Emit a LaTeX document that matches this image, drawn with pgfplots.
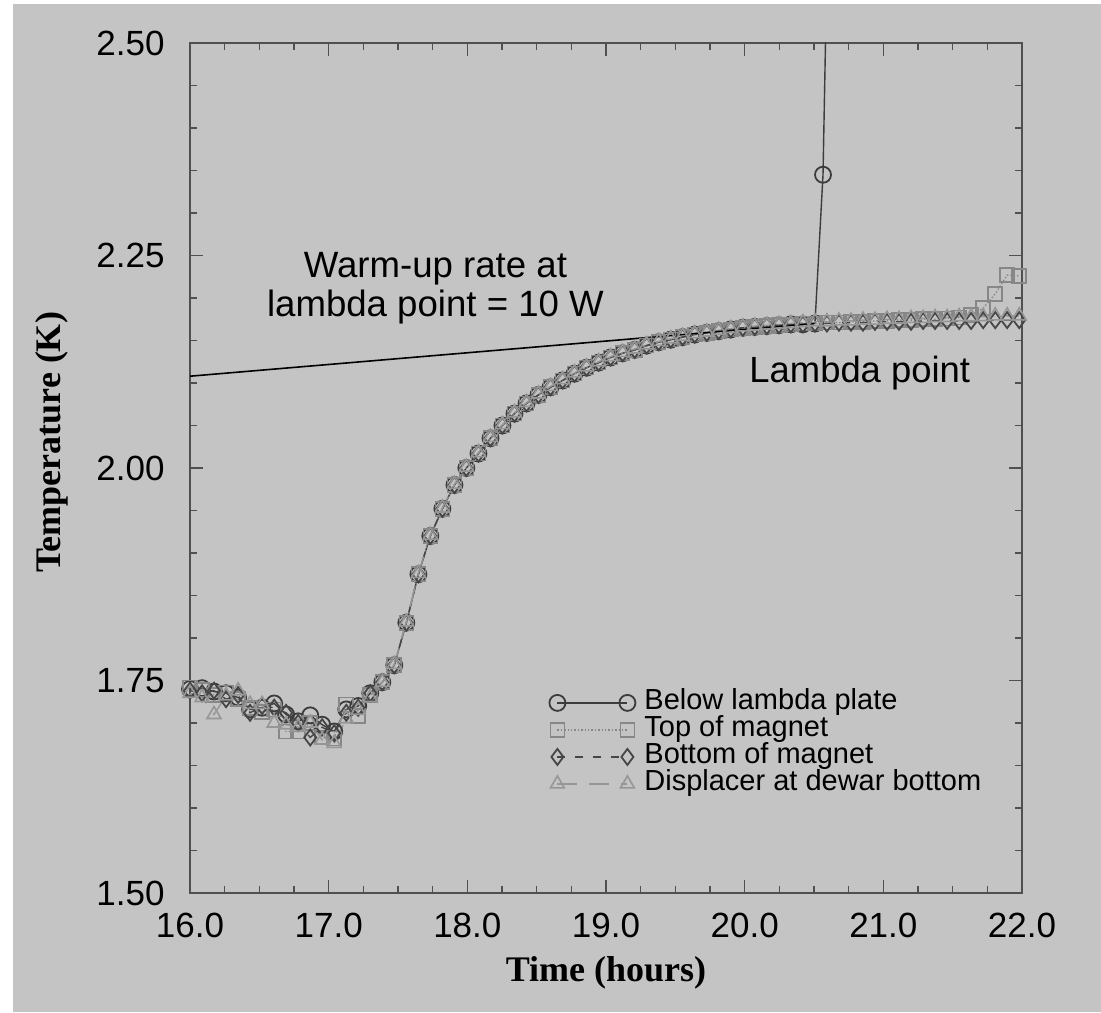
\documentclass[border=0pt]{standalone}
\usepackage{fontspec}
\setmainfont{Liberation Sans}
\newfontfamily\serifbf{Liberation Serif}
\usepackage{pgfplots}
\pgfplotsset{compat=1.18}
\definecolor{bg}{RGB}{196,196,196}
\definecolor{cir}{RGB}{60,60,60}
\definecolor{sqr}{RGB}{135,135,135}
\definecolor{dia}{RGB}{70,70,70}
\definecolor{tri}{RGB}{150,150,150}
\definecolor{axc}{RGB}{80,80,80}

\begin{document}
\begin{tikzpicture}
% background, 1 px = 0.5pt
\fill[white] (-95pt,-59.5pt) rectangle (455.5pt,446.5pt);
\fill[bg] (-88.5pt,-59.5pt) rectangle (455.5pt,444.5pt);
\begin{axis}[
  at={(0,0)}, anchor=south west,
  scale only axis, width=416pt, height=425pt,
  xmin=16, xmax=22, ymin=1.5, ymax=2.5,
  xtick={16,17,...,22}, ytick={1.5,1.75,2,2.25,2.5},
  minor x tick num=3, minor y tick num=4,
  major tick length=6.5pt, minor tick length=3.5pt,
  tick style={axc, line width=0.8pt},
  axis line style={axc, line width=1pt},
  /pgf/number format/assume math mode=true,
  xticklabel style={/pgf/number format/.cd, fixed, fixed zerofill, precision=1, /tikz/.cd,
    font=\fontsize{17.5}{20}\selectfont, inner sep=0pt, anchor=north, yshift=-10pt},
  yticklabel style={/pgf/number format/.cd, fixed, fixed zerofill, precision=2, /tikz/.cd,
    font=\fontsize{17.5}{20}\selectfont, inner sep=0pt, anchor=east, xshift=-12.5pt},
  xlabel={Time (hours)}, ylabel={Temperature (K)},
  xlabel style={font=\serifbf\bfseries\fontsize{18}{20}\selectfont, at={(axis description cs:0.5,-0.094)}, anchor=center},
  ylabel style={font=\serifbf\bfseries\fontsize{18}{20}\selectfont, at={(axis description cs:-0.166,0.53)}, anchor=center, rotate=0},
  legend style={at={(axis description cs:0.4315,0.240)}, anchor=north west, draw=none, fill=none,
    inner sep=0pt, row sep=0pt, font=\fontsize{14.5}{16}\selectfont,
    nodes={inner sep=0pt, text height=10pt, text depth=3.5pt},
    /tikz/every odd column/.append style={column sep=4.5pt}},
  legend cell align=left,
  legend image code/.code={\draw[#1] plot coordinates {(0pt,0pt) (35pt,0pt)};},
]
\addplot[cir, line width=0.7pt, mark=o, mark size=4pt, mark options={solid, line width=0.9pt}] coordinates {
(16.000,1.740)(16.087,1.741)(16.173,1.737)(16.260,1.735)(16.347,1.730)(16.433,1.716)(16.520,1.718)(16.607,1.723)
(16.693,1.710)(16.780,1.702)(16.867,1.709)(16.953,1.698)(17.040,1.690)(17.127,1.716)(17.213,1.720)(17.300,1.735)
(17.387,1.748)(17.473,1.768)(17.560,1.818)(17.647,1.875)(17.733,1.920)(17.820,1.952)(17.907,1.980)(17.993,2.000)
(18.080,2.017)(18.167,2.035)(18.253,2.050)(18.340,2.064)(18.427,2.076)(18.513,2.086)(18.600,2.095)(18.687,2.103)
(18.773,2.111)(18.860,2.118)(18.947,2.124)(19.033,2.130)(19.120,2.135)(19.207,2.139)(19.293,2.144)(19.380,2.148)
(19.467,2.151)(19.553,2.154)(19.640,2.157)(19.727,2.159)(19.813,2.161)(19.900,2.163)(19.987,2.165)(20.073,2.166)
(20.160,2.167)(20.247,2.168)(20.333,2.169)(20.420,2.169)(20.507,2.170)(20.565,2.345)(20.600,2.650)};
\addlegendentry{Below lambda plate}
\addplot[sqr, line width=0.7pt, densely dotted, mark=square, mark size=3.5pt, mark options={solid, line width=0.8pt}] coordinates {
(16.000,1.742)(16.087,1.739)(16.173,1.733)(16.260,1.736)(16.347,1.728)(16.433,1.718)(16.520,1.713)(16.607,1.716)
(16.693,1.690)(16.780,1.690)(16.867,1.700)(16.953,1.683)(17.040,1.682)(17.127,1.722)(17.213,1.708)(17.300,1.733)
(17.387,1.748)(17.473,1.768)(17.560,1.818)(17.647,1.875)(17.733,1.920)(17.820,1.952)(17.907,1.980)(17.993,2.000)
(18.080,2.017)(18.167,2.035)(18.253,2.050)(18.340,2.064)(18.427,2.076)(18.513,2.086)(18.600,2.095)(18.687,2.103)
(18.773,2.111)(18.860,2.118)(18.947,2.124)(19.033,2.130)(19.120,2.135)(19.207,2.139)(19.293,2.144)(19.380,2.148)
(19.467,2.151)(19.553,2.154)(19.640,2.157)(19.727,2.159)(19.813,2.161)(19.900,2.163)(19.987,2.165)(20.073,2.166)
(20.160,2.167)(20.247,2.168)(20.333,2.169)(20.420,2.170)(20.507,2.170)(20.593,2.171)(20.680,2.171)(20.767,2.172)
(20.853,2.172)(20.940,2.173)(21.027,2.173)(21.113,2.174)(21.200,2.174)(21.287,2.175)(21.373,2.175)(21.460,2.176)
(21.547,2.177)(21.633,2.180)(21.720,2.188)(21.807,2.205)(21.893,2.227)(21.980,2.226)};
\addlegendentry{Top of magnet}
\addplot[dia, line width=0.7pt, dash pattern=on 4pt off 5pt, mark=diamond, mark size=4pt, mark options={solid, line width=0.9pt}] coordinates {
(16.000,1.738)(16.087,1.735)(16.173,1.738)(16.260,1.728)(16.347,1.733)(16.433,1.712)(16.520,1.720)(16.607,1.718)
(16.693,1.712)(16.780,1.700)(16.867,1.683)(16.953,1.695)(17.040,1.688)(17.127,1.712)(17.213,1.718)(17.300,1.735)
(17.387,1.748)(17.473,1.768)(17.560,1.818)(17.647,1.875)(17.733,1.920)(17.820,1.952)(17.907,1.980)(17.993,2.000)
(18.080,2.017)(18.167,2.035)(18.253,2.050)(18.340,2.064)(18.427,2.076)(18.513,2.086)(18.600,2.095)(18.687,2.103)
(18.773,2.111)(18.860,2.118)(18.947,2.124)(19.033,2.130)(19.120,2.135)(19.207,2.139)(19.293,2.144)(19.380,2.148)
(19.467,2.151)(19.553,2.154)(19.640,2.157)(19.727,2.159)(19.813,2.161)(19.900,2.163)(19.987,2.165)(20.073,2.166)
(20.160,2.167)(20.247,2.168)(20.333,2.169)(20.420,2.169)(20.507,2.170)(20.593,2.170)(20.680,2.171)(20.767,2.171)
(20.853,2.171)(20.940,2.172)(21.027,2.172)(21.113,2.172)(21.200,2.172)(21.287,2.173)(21.373,2.173)(21.460,2.173)
(21.547,2.173)(21.633,2.173)(21.720,2.174)(21.807,2.174)(21.893,2.174)(21.980,2.174)};
\addlegendentry{Bottom of magnet}
\addplot[tri, line width=0.7pt, dash pattern=on 10pt off 6pt, mark=triangle, mark size=4pt, mark options={solid, line width=0.8pt}] coordinates {
(16.000,1.735)(16.087,1.730)(16.173,1.710)(16.260,1.732)(16.347,1.738)(16.433,1.722)(16.520,1.722)(16.607,1.700)
(16.693,1.698)(16.780,1.695)(16.867,1.700)(16.953,1.680)(17.040,1.676)(17.127,1.705)(17.213,1.715)(17.300,1.730)
(17.387,1.748)(17.473,1.769)(17.560,1.819)(17.647,1.876)(17.733,1.921)(17.820,1.953)(17.907,1.981)(17.993,2.001)
(18.080,2.018)(18.167,2.036)(18.253,2.051)(18.340,2.065)(18.427,2.077)(18.513,2.087)(18.600,2.096)(18.687,2.104)
(18.773,2.112)(18.860,2.119)(18.947,2.125)(19.033,2.131)(19.120,2.136)(19.207,2.140)(19.293,2.145)(19.380,2.149)
(19.467,2.152)(19.553,2.155)(19.640,2.158)(19.727,2.160)(19.813,2.162)(19.900,2.164)(19.987,2.166)(20.073,2.167)
(20.160,2.168)(20.247,2.169)(20.333,2.170)(20.420,2.171)(20.507,2.172)(20.593,2.172)(20.680,2.173)(20.767,2.173)
(20.853,2.174)(20.940,2.174)(21.027,2.175)(21.113,2.175)(21.200,2.176)(21.287,2.176)(21.373,2.177)(21.460,2.177)
(21.547,2.178)(21.633,2.178)(21.720,2.178)(21.807,2.179)(21.893,2.179)(21.980,2.179)};
\addlegendentry{Displacer at dewar bottom}
\addplot[black, line width=0.8pt, forget plot] coordinates {(16.0,2.108) (20.5,2.170)};
\node[align=center, font=\fontsize{18.3}{19.5}\selectfont] at (axis cs:17.77,2.212) {Warm-up rate at\\lambda point = 10 W};
\node[font=\fontsize{18.2}{19.5}\selectfont] at (axis cs:20.83,2.112) {Lambda point};
\end{axis}
\end{tikzpicture}
\end{document}
